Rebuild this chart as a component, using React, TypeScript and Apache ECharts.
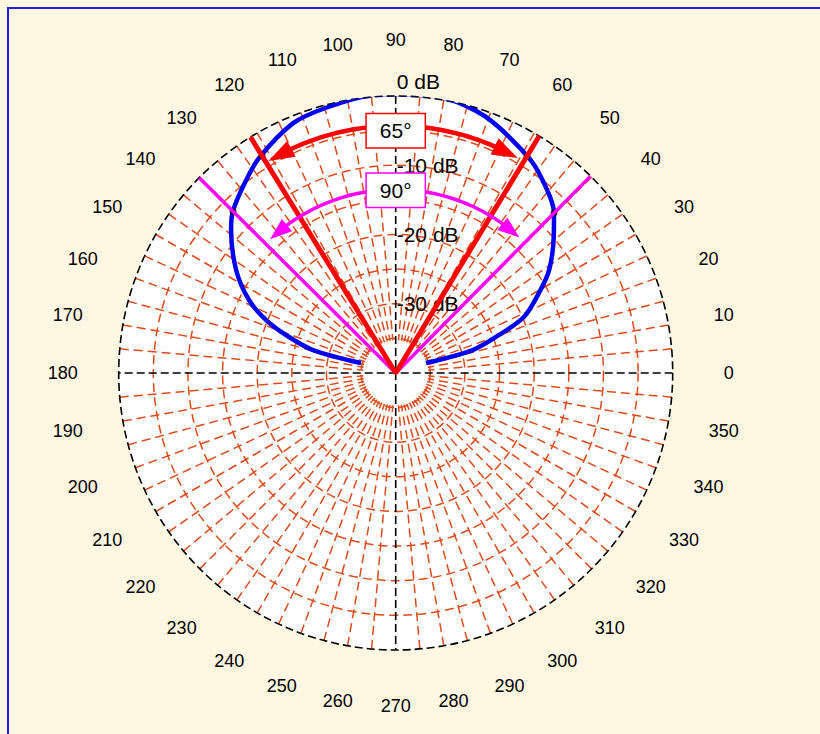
import React, { useEffect, useRef } from "react";
import * as echarts from "echarts";

// ---------- data ----------
const angleLabels = [0, 10, 20, 30, 40, 50, 60, 70, 80, 90, 100, 110, 120, 130, 140, 150, 160, 170, 180, 190, 200, 210, 220, 230, 240, 250, 260, 270, 280, 290, 300, 310, 320, 330, 340, 350];
const dbTicks = [0, -10, -20, -30];

// measured antenna pattern (angle in degrees, level in dB)
const patternAngles = [18.3, 16.6, 20.2, 23.6, 29.2, 33.9, 40.7, 45.3, 52.7, 58.5, 70.6, 79.6, 90, 95, 104.7, 112.3, 122.4, 128.6, 135.3, 139, 147.2, 153.5, 157.8, 160.9, 164.5, 163.9];
const patternDb = [-35.4, -28.4, -24.1, -19.8, -16.3, -13.3, -9.9, -7.5, -5.0, -3.4, -0.8, 0.3, 0.3, 0.3, -0.4, -1.0, -3.2, -5.0, -6.9, -8.5, -12.6, -16.3, -19.8, -23.2, -27.6, -34.8];

// beamwidth edges
const edges65 = [58.8, 121.6];
const edges90 = [45.3, 135.2];
const edgeDb = 0.3;

// crossing markers
const crossAngles = [58.8, 45.3, 121.6, 135.2];
const crossDb = [-3.4, -7.5, -3.2, -6.9];

// beamwidth arcs
const beamLabels = ["65°", "90°"];
const beamArcDb = [-4.3, -13.5];
const beamArcFrom = [60.4, 47.6];
const beamArcTo = [121.0, 133.2];
const beamBoxDb = [-5.0, -13.6];

// ---------- style ----------
const FONT = "'Liberation Sans', Arial, Helvetica, sans-serif";
const CREAM = "#fff7e2";
const GRID = "#dc4b1a";
const R_OUT = 277;
const CENTER: [number, number] = [395.7, 373];
const R_MIN = -40;
const beamColors = ["#ff0000", "#ff00ff"];
const beamWidths = [4.5, 3.5];
const headLens = [26, 22];
const headHalf = [9, 8];

const ax = (a: number) => (a < 90 ? a + 360 : a);

const LABEL_MARGIN = 3;
const LABEL_R = 333;
const LABEL_FS = 18;

function buildAngleRich() {
  const rich: Record<string, any> = {};
  const rA = R_OUT + LABEL_MARGIN;
  const D = LABEL_R - rA;
  angleLabels.forEach((a) => {
    const t = (a * Math.PI) / 180;
    const c = Math.cos(t);
    const s = Math.sin(t);
    const w = String(a).length * 0.556 * LABEL_FS;
    const h = LABEL_FS;
    const dX = D * c;
    const dY = -D * s;
    let pl = 0, pr = 0, pt = 0, pb = 0;
    const hA = Math.abs(rA * c) / R_OUT < 0.3 ? "center" : c > 0 ? "left" : "right";
    const vA = Math.abs(rA * s) / R_OUT < 0.3 ? "middle" : s < 0 ? "top" : "bottom";
    if (hA === "left") pl = dX - w / 2;
    else if (hA === "right") pr = -dX - w / 2;
    else { pl = Math.max(0, 2 * dX); pr = Math.max(0, -2 * dX); }
    if (vA === "top") pt = dY - h / 2;
    else if (vA === "bottom") pb = -dY - h / 2;
    else { pt = Math.max(0, 2 * dY); pb = Math.max(0, -2 * dY); }
    rich["t" + a] = {
      fontSize: LABEL_FS,
      fontFamily: FONT,
      color: "#000",
      padding: [pt, pr, pb, pl].map((v) => Math.max(0, v)),
    };
  });
  return rich;
}

function buildOption(): any {
  const spokeColors = ["rgba(0,0,0,0)"].concat(Array(17).fill(GRID));
  const ringColors = Array(8).fill(GRID).concat(["rgba(0,0,0,0)"]);

  const dist = (p: number[], q: number[]) => Math.hypot(p[0] - q[0], p[1] - q[1]);

  return {
    animation: false,
    backgroundColor: "transparent",
    polar: { center: CENTER, radius: [0, R_OUT] },
    angleAxis: {
      type: "value",
      min: 90,
      max: 450,
      interval: 5,
      startAngle: 90,
      clockwise: false,
      z: 1,
      axisLine: { show: true, lineStyle: { color: "#000", width: 1.6, type: [8, 4] } },
      axisTick: { show: false },
      splitLine: { show: true, lineStyle: { color: spokeColors, width: 1.5, type: [9, 5] } },
      axisLabel: {
        show: true,
        margin: LABEL_MARGIN,
        color: "#000",
        fontSize: LABEL_FS,
        fontFamily: FONT,
        formatter: (v: number) => {
          const r = Math.round(v);
          if (r % 10 !== 0) return "";
          const d = r % 360;
          return `{t${d}|${d}}`;
        },
        rich: buildAngleRich(),
      },
    },
    radiusAxis: {
      type: "value",
      min: R_MIN,
      max: 0,
      interval: 5,
      z: 1,
      axisLine: { show: false },
      axisTick: { show: false },
      splitLine: { show: true, lineStyle: { color: ringColors, width: 1.5, type: [9, 5] } },
      axisLabel: {
        show: true,
        margin: -1,
        align: "left",
        color: "#000",
        fontSize: 21,
        fontFamily: FONT,
        formatter: (v: number) => {
          if (!dbTicks.includes(v)) return "";
          if (v === 0) return "{top|0 dB}";
          return `${v} dB`;
        },
        rich: { top: { fontSize: 21, fontFamily: FONT, color: "#000", padding: [0, 0, 30, 0] } },
      },
    },
    series: [
      {
        type: "custom",
        name: "disc",
        coordinateSystem: "polar",
        z: 0,
        silent: true,
        data: [[R_MIN, 90]],
        renderItem: (params: any) => {
          const cs = params.coordSys;
          return { type: "circle", shape: { cx: cs.cx, cy: cs.cy, r: cs.r }, style: { fill: "#fff" } };
        },
      },
      {
        type: "custom",
        name: "hole",
        coordinateSystem: "polar",
        z: 2,
        silent: true,
        data: [[R_MIN, 90]],
        renderItem: (params: any, api: any) => {
          const c = api.coord([R_MIN, 90]);
          const q = api.coord([-35, 90]);
          return { type: "circle", shape: { cx: c[0], cy: c[1], r: dist(c, q) - 2 }, style: { fill: "#fff" } };
        },
      },
      {
        type: "line",
        coordinateSystem: "polar",
        z: 3,
        silent: true,
        clip: false,
        symbol: "none",
        lineStyle: { color: "#000", width: 1.6, type: [8, 4] },
        data: [[0, 360], [R_MIN, 360], [0, 180]],
      },
      {
        type: "line",
        coordinateSystem: "polar",
        z: 3,
        silent: true,
        clip: false,
        symbol: "none",
        lineStyle: { color: "#000", width: 1.6, type: [8, 4] },
        data: [[0, 90], [R_MIN, 90], [0, 270]],
      },
      {
        type: "line",
        name: "pattern",
        coordinateSystem: "polar",
        z: 4,
        silent: true,
        clip: false,
        symbol: "none",
        smooth: 0.3,
        lineStyle: { color: "#0000f0", width: 4.5 },
        data: patternAngles.map((a, i) => [patternDb[i], ax(a)]),
      },
      {
        type: "scatter",
        coordinateSystem: "polar",
        z: 5,
        silent: true,
        symbol: "circle",
        symbolSize: 7,
        itemStyle: { color: "#000" },
        data: crossAngles.map((a, i) => [crossDb[i], ax(a)]),
      },
      {
        type: "line",
        coordinateSystem: "polar",
        z: 6,
        silent: true,
        clip: false,
        symbol: "none",
        lineStyle: { color: "#ff00ff", width: 3.5 },
        data: [[edgeDb, ax(edges90[0])], [R_MIN, ax(edges90[0])], [edgeDb, ax(edges90[1])]],
      },
      {
        type: "line",
        coordinateSystem: "polar",
        z: 6,
        silent: true,
        clip: false,
        symbol: "none",
        lineStyle: { color: "#ff0000", width: 5 },
        data: [[edgeDb, ax(edges65[0])], [R_MIN, ax(edges65[0])], [edgeDb, ax(edges65[1])]],
      },
      {
        type: "custom",
        name: "beams",
        coordinateSystem: "polar",
        z: 7,
        silent: true,
        dimensions: ["r", "a", "a2", "rb"],
        encode: { radius: 0, angle: 1 },
        data: beamLabels.map((_, i) => [beamArcDb[i], ax(beamArcFrom[i]), beamArcTo[i], beamBoxDb[i]]),
        renderItem: (params: any, api: any) => {
          const i = params.dataIndex;
          const lvl = beamArcDb[i];
          const a1 = beamArcFrom[i];
          const a2 = beamArcTo[i];
          const col = beamColors[i];
          const c = api.coord([R_MIN, 90]);
          const top = api.coord([lvl, 90]);
          const rpx = dist(c, top);
          const dA = ((headLens[i] / rpx) * 180) / Math.PI;
          const s = a1 + dA * 0.8;
          const e = a2 - dA * 0.8;
          const pts: number[][] = [];
          const n = 60;
          for (let k = 0; k <= n; k++) pts.push(api.coord([lvl, ax(s + ((e - s) * k) / n)]));
          const head = (tipA: number, baseA: number) => {
            const tip = api.coord([lvl, ax(tipA)]);
            const base = api.coord([lvl, ax(baseA)]);
            const L = dist(tip, base);
            const dx = (tip[0] - base[0]) / L;
            const dy = (tip[1] - base[1]) / L;
            const px = -dy * headHalf[i];
            const py = dx * headHalf[i];
            return {
              type: "polygon",
              shape: { points: [tip, [base[0] + px, base[1] + py], [base[0] - px, base[1] - py]] },
              style: { fill: col },
            };
          };
          const box = api.coord([beamBoxDb[i], 90]);
          return {
            type: "group",
            children: [
              { type: "polyline", shape: { points: pts }, style: { stroke: col, lineWidth: beamWidths[i], fill: null } },
              head(a1, a1 + dA),
              head(a2, a2 - dA),
              {
                type: "text",
                x: box[0],
                y: box[1],
                style: {
                  text: beamLabels[i],
                  fontSize: 21,
                  fontFamily: FONT,
                  fill: "#000",
                  align: "center",
                  verticalAlign: "middle",
                  backgroundColor: "#fff",
                  borderColor: col,
                  borderWidth: 1.5,
                  padding: [6, 13, 6, 13],
                },
              },
            ],
          };
        },
      },
    ],
  };
}

export default function App() {
  const ref = useRef<HTMLDivElement>(null);
  useEffect(() => {
    if (!ref.current) return;
    const chart = echarts.init(ref.current, null, { renderer: "svg" });
    chart.setOption(buildOption());
    return () => chart.dispose();
  }, []);
  return (
    <div style={{ position: "fixed", left: 0, top: 0, width: 820, height: 734, background: CREAM, overflow: "hidden" }}>
      <div
        style={{
          position: "absolute",
          left: 7,
          top: 7,
          right: 0,
          bottom: 0,
          borderLeft: "2px solid #1a1aff",
          borderTop: "2px solid #1a1aff",
        }}
      />
      <div ref={ref} style={{ position: "absolute", left: 0, top: 0, width: 820, height: 734 }} />
    </div>
  );
}
